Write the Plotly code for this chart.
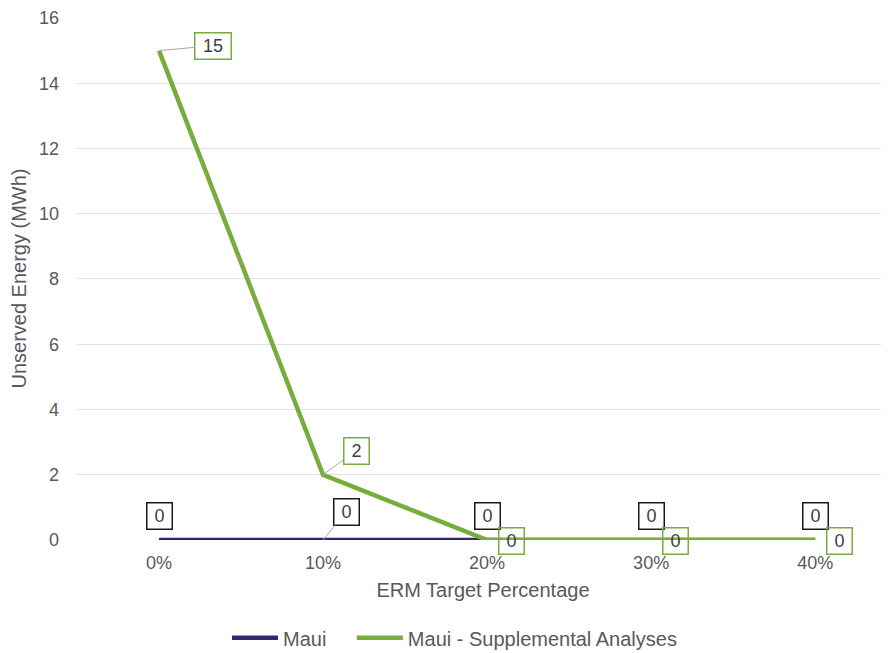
import plotly.graph_objects as go

categories = ["0%", "10%", "20%", "30%", "40%"]
maui = [0, 0, 0, 0, 0]
maui_supp = [15, 2, 0, 0, 0]
y_ticks = [0, 2, 4, 6, 8, 10, 12, 14, 16]

NAVY = "#2E2A72"
GREEN = "#78AC3C"
GRAY = "#595959"
FONT = "Liberation Sans, Arial, sans-serif"

fig = go.Figure()
fig.add_trace(go.Scatter(x=categories, y=maui, mode="lines", name="Maui",
                         line=dict(color=NAVY, width=4.5), legend="legend"))
fig.add_trace(go.Scatter(x=categories, y=maui_supp, mode="lines",
                         name="Maui - Supplemental Analyses",
                         line=dict(color=GREEN, width=4.5), legend="legend2"))


def box_width(v):
    return 18 if len(str(v)) == 1 else 29


# Maui labels (above points, black boxes)
maui_offsets = [(0, -24), (23, -28), (0, -24), (0, -24), (0, -24)]
for cat, val, (ax, ay) in zip(categories, maui, maui_offsets):
    leader = ax != 0
    fig.add_annotation(x=cat, y=val, text=str(val), showarrow=True,
                       arrowhead=0, arrowwidth=1,
                       arrowcolor="#A6A6A6" if leader else "rgba(0,0,0,0)",
                       ax=ax, ay=ay, bordercolor="#1A1A1A", borderwidth=1.5,
                       borderpad=3, bgcolor="white", width=box_width(val), height=19,
                       font=dict(size=18, color="#404040", family=FONT))

# Supplemental labels (green boxes)
supp_offsets = [(54, -5), (33, -24), (24, 1), (24, 1), (24, 1)]
for cat, val, (ax, ay) in zip(categories, maui_supp, supp_offsets):
    leader = val != 0
    fig.add_annotation(x=cat, y=val, text=str(val), showarrow=True,
                       arrowhead=0, arrowwidth=1,
                       arrowcolor="#A6A6A6" if leader else "rgba(0,0,0,0)",
                       ax=ax, ay=ay, bordercolor=GREEN, borderwidth=1.5,
                       borderpad=3, width=box_width(val), height=19,
                       bgcolor="white" if leader else "rgba(255,255,255,0)",
                       font=dict(size=18, color="#404040", family=FONT))

legend_style = dict(orientation="h", xanchor="left", y=-0.187, yanchor="middle",
                    font=dict(size=20, color=GRAY), itemwidth=46,
                    bgcolor="rgba(0,0,0,0)")

fig.update_layout(
    width=889, height=653,
    margin=dict(l=69, r=8, t=9, b=121, autoexpand=False),
    paper_bgcolor="white", plot_bgcolor="white",
    font=dict(family=FONT, color=GRAY, size=18),
    showlegend=True,
    legend=dict(x=0.1847, **legend_style),
    legend2=dict(x=0.3385, **legend_style),
    xaxis=dict(type="category", range=[-0.5, 4.45], showgrid=False,
               showline=False, ticks="", zeroline=False, automargin=False,
               ticklabelstandoff=10,
               title=dict(text="ERM Target Percentage", font=dict(size=20, color=GRAY),
                          standoff=10),
               tickfont=dict(size=18, color=GRAY)),
    yaxis=dict(range=[0, 16.03], tickvals=y_ticks, showgrid=True, gridcolor="#E3E3E3",
               gridwidth=1, zeroline=False, showline=False, ticks="",
               automargin=False, ticklabeloverflow="allow",
               ticklabelstandoff=17,
               title=dict(text="Unserved Energy (MWh)", font=dict(size=20, color=GRAY),
                          standoff=8),
               tickfont=dict(size=18, color=GRAY)),
)

fig.write_html("out.html")
